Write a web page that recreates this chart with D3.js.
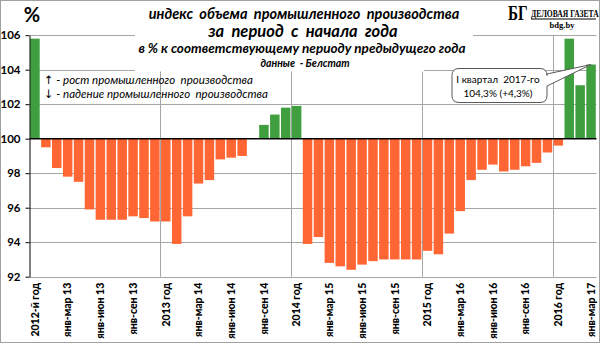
<!DOCTYPE html>
<html>
<head>
<meta charset="utf-8">
<script src="https://cdn.jsdelivr.net/npm/d3@7/dist/d3.min.js"></script>
<style>
  body { margin: 0; background: #fff; }
  svg { display: block; font-family: Lato, "Open Sans", "DejaVu Sans", sans-serif; }
  .pre text { white-space: pre; }
  .arrow { font-family: "DejaVu Sans", sans-serif; font-style: normal; }
</style>
</head>
<body>
<svg id="chart" width="600" height="343"></svg>
<script>
// Индекс промышленного производства нарастающим итогом, % к соответствующему периоду прошлого года
const categories = [
  "2012-й год",
  "янв 13", "янв-фев 13", "янв-мар 13", "янв-апр 13", "янв-май 13", "янв-июн 13",
  "янв-июл 13", "янв-авг 13", "янв-сен 13", "янв-окт 13", "янв-ноя 13", "2013 год",
  "янв 14", "янв-фев 14", "янв-мар 14", "янв-апр 14", "янв-май 14", "янв-июн 14",
  "янв-июл 14", "янв-авг 14", "янв-сен 14", "янв-окт 14", "янв-ноя 14", "2014 год",
  "янв 15", "янв-фев 15", "янв-мар 15", "янв-апр 15", "янв-май 15", "янв-июн 15",
  "янв-июл 15", "янв-авг 15", "янв-сен 15", "янв-окт 15", "янв-ноя 15", "2015 год",
  "янв 16", "янв-фев 16", "янв-мар 16", "янв-апр 16", "янв-май 16", "янв-июн 16",
  "янв-июл 16", "янв-авг 16", "янв-сен 16", "янв-окт 16", "янв-ноя 16", "2016 год",
  "янв 17", "янв-фев 17", "янв-мар 17"
];
const values = [
  105.8,
  99.5, 98.3, 97.8, 97.5, 95.9, 95.3, 95.3, 95.3, 95.5, 95.4, 95.2, 95.2,
  93.9, 95.5, 97.4, 97.6, 98.8, 98.9, 99.0, 100.0, 100.8, 101.4, 101.8, 101.9,
  93.9, 94.3, 92.8, 92.6, 92.4, 92.7, 92.9, 93.0, 93.0, 93.0, 93.0, 93.5,
  93.3, 94.5, 95.8, 97.6, 98.2, 98.5, 98.1, 98.2, 98.4, 98.6, 99.2, 99.6,
  105.8, 103.1, 104.3
];
const xTickLabels = [
  "2012-й год", "янв-мар 13", "янв-июн 13", "янв-сен 13", "2013 год",
  "янв-мар 14", "янв-июн 14", "янв-сен 14", "2014 год",
  "янв-мар 15", "янв-июн 15", "янв-сен 15", "2015 год",
  "янв-мар 16", "янв-июн 16", "янв-сен 16", "2016 год", "янв-мар 17"
];
const yTicks = [92, 94, 96, 98, 100, 102, 104, 106];
const yearEnds = ["2013 год", "2014 год", "2015 год", "2016 год"];
const baseline = 100;
const calloutCategory = "янв-мар 17";
const calloutLines = ["I квартал  2017-го", "104,3% (+4,3%)"];

const svg = d3.select("#chart");
const W = 600, H = 343;
const plotLeft = 29.5, plotRight = 596.5, plotTop = 35.2, plotBottom = 276.7;

const x = d3.scaleBand().domain(categories).range([plotLeft, plotRight])
  .paddingInner(0.13).paddingOuter(0.065);
const y = d3.scaleLinear().domain([92, 106]).range([plotBottom, plotTop]);

const grid = "#a6a6a6";

// frame
svg.append("rect").attr("x", 0.5).attr("y", 0.5).attr("width", W - 1).attr("height", H - 1)
  .attr("fill", "#fff").attr("stroke", "#a0a0a0");

// horizontal gridlines
svg.append("g").selectAll("line").data(yTicks.filter(d => d !== baseline)).join("line")
  .attr("x1", plotLeft).attr("x2", plotRight)
  .attr("y1", d => Math.round(y(d)) + 0.5).attr("y2", d => Math.round(y(d)) + 0.5)
  .attr("stroke", grid).attr("stroke-width", 1);

// vertical gridlines at the start of each year-end category
const gap = x.step() * x.paddingInner() / 2;
svg.append("g").selectAll("line").data(yearEnds).join("line")
  .attr("x1", d => Math.round(x(d) - gap) + 0.5).attr("x2", d => Math.round(x(d) - gap) + 0.5)
  .attr("y1", plotTop).attr("y2", plotBottom)
  .attr("stroke", grid).attr("stroke-width", 1);

// bars from the 100% line
svg.append("g").selectAll("rect").data(values.map((v, i) => ({ c: categories[i], v })))
  .join("rect")
  .attr("x", d => x(d.c))
  .attr("width", x.bandwidth())
  .attr("y", d => y(Math.max(d.v, baseline)))
  .attr("height", d => Math.abs(y(d.v) - y(baseline)))
  .attr("fill", d => d.v >= baseline ? "#3f9f3f" : "#ff6633");

// baseline at 100
svg.append("line").attr("x1", plotLeft).attr("x2", plotRight)
  .attr("y1", y(baseline)).attr("y2", y(baseline))
  .attr("stroke", "#000").attr("stroke-width", 1.5);

// y axis
const yAxis = svg.append("g").attr("transform", `translate(${plotLeft},0)`)
  .call(d3.axisLeft(y).tickValues(yTicks).tickSize(4).tickSizeOuter(0).tickPadding(5).tickFormat(d3.format("d")));
yAxis.select(".domain").attr("stroke", "#000");
yAxis.selectAll(".tick line").attr("stroke", "#000");
yAxis.selectAll("text").attr("font-size", 11.5).attr("font-weight", "bold").attr("fill", "#000")
  .attr("font-family", "Lato, sans-serif");

// x axis labels at the bottom
const xAxis = svg.append("g").attr("transform", `translate(0,${plotBottom})`)
  .call(d3.axisBottom(x).tickValues(xTickLabels).tickSize(0));
xAxis.select(".domain").remove();
xAxis.selectAll("text")
  .attr("transform", "rotate(-90)")
  .attr("text-anchor", "end")
  .attr("x", -6).attr("y", 0).attr("dy", "0.36em")
  .attr("font-size", 10.5).attr("font-weight", "900").attr("fill", "#000")
  .attr("font-family", "Lato, sans-serif");

// title block background
svg.append("rect").attr("x", 135).attr("y", 1).attr("width", 289).attr("height", 70.5).attr("fill", "#fff");
svg.append("rect").attr("x", 424).attr("y", 1).attr("width", 49).attr("height", 39).attr("fill", "#fff");

const title = svg.append("g").attr("class", "pre").attr("font-style", "italic").attr("font-weight", "bold")
  .attr("fill", "#000").attr("text-anchor", "middle");
title.append("text").attr("x", 304).attr("y", 19).attr("font-size", 14.5)
  .text("индекс  объема  промышленного  производства");
title.append("text").attr("x", 303).attr("y", 37).attr("font-size", 16.5)
  .text("за  период  с  начала  года");
title.append("text").attr("x", 302).attr("y", 53).attr("font-size", 13.5)
  .text("в % к соответствующему периоду предыдущего года");
title.append("text").attr("x", 305).attr("y", 67).attr("font-size", 10.5)
  .text("данные  - Белстат");

// percent sign
svg.append("text").attr("x", 32).attr("y", 22).attr("text-anchor", "middle")
  .attr("font-size", 20).attr("font-weight", "bold").text("%");

// legend
const legend = svg.append("g").attr("class", "pre").attr("font-style", "italic").attr("font-size", 11.5).attr("fill", "#000");
const legendRows = [["↑", " - рост промышленного  производства"], ["↓", " - падение промышленного  производства"]];
legendRows.forEach(([arrow, label], i) => {
  const t = legend.append("text").attr("x", 44).attr("y", 84 + i * 14);
  t.append("tspan").attr("class", "arrow").attr("fill", "#000").text(arrow + "\uFE0E");
  t.append("tspan").text(label);
});

// logo
const logo = svg.append("g").attr("font-family", "'Liberation Serif', 'DejaVu Serif', serif").attr("font-weight", "bold");
logo.append("text").attr("transform", "translate(508,19.5) scale(0.72,1)").attr("font-size", 21).text("БГ");
logo.append("text").attr("transform", "translate(531,17) scale(0.76,1)").attr("font-size", 10).text("ДЕЛОВАЯ ГАЗЕТА");
logo.append("line").attr("x1", 531).attr("x2", 596).attr("y1", 19).attr("y2", 19).attr("stroke", "#000");
logo.append("text").attr("x", 562).attr("y", 28).attr("font-size", 8.5).attr("text-anchor", "middle").text("bdg.by");

// callout for the last bar
const val = values[categories.indexOf(calloutCategory)];
const px = x(calloutCategory) + x.bandwidth() / 2, py = y(val);
const bx0 = 452, bx1 = 547, by0 = 68.5, by1 = 102.5, r = 7;
const path = `M${bx0 + r},${by0} H${bx1 - r} Q${bx1},${by0} ${bx1},${by0 + r} V${74} L${px},${py} L${bx1},${86}
  V${by1 - r} Q${bx1},${by1} ${bx1 - r},${by1} H${bx0 + r} Q${bx0},${by1} ${bx0},${by1 - r}
  V${by0 + r} Q${bx0},${by0} ${bx0 + r},${by0} Z`;
svg.append("path").attr("d", path).attr("fill", "#fff").attr("stroke", "#595959").attr("stroke-width", 1);
svg.append("g").attr("class", "pre").attr("text-anchor", "middle").attr("font-size", 10).attr("fill", "#000")
  .selectAll("text").data(calloutLines).join("text")
  .attr("x", 498).attr("y", (d, i) => 83 + i * 14).text(d => d);
</script>
</body>
</html>
